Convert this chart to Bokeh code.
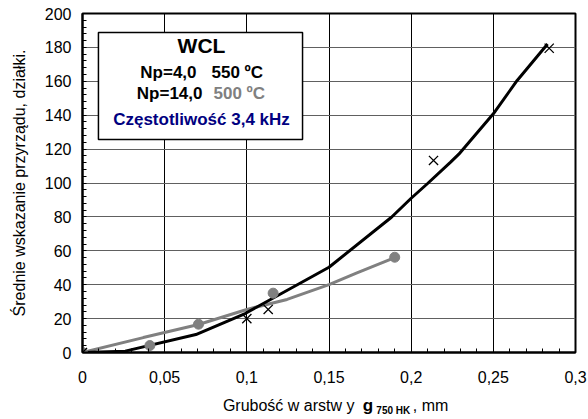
from bokeh.plotting import figure
from bokeh.models import FixedTicker, CustomJSTickFormatter, Range1d, BoxAnnotation, Label
from bokeh.layouts import column
from bokeh.core.properties import value
from bokeh.embed import file_html
from bokeh.resources import INLINE

# --- data ---
x_cross = [0.0, 0.100, 0.113, 0.2136, 0.284]
y_cross = [0.0, 20.0, 25.4, 113.3, 179.5]

x_dots = [0.0, 0.041, 0.0706, 0.116, 0.190]
y_dots = [0.0, 4.1, 16.7, 35.0, 56.2]

x_black_line = [0.0, 0.026, 0.069, 0.099, 0.139, 0.150, 0.188, 0.200, 0.210,
                0.224, 0.229, 0.250, 0.2645, 0.283]
y_black_line = [0.0, 0.8, 10.6, 23.0, 44.4, 50.3, 79.8, 91.0, 99.7,
                112.3, 117.0, 140.8, 160.5, 182.0]

x_gray_line = [0.0, 0.037, 0.0706, 0.100, 0.1245, 0.150, 0.167, 0.190]
y_gray_line = [0.0, 8.8, 16.5, 25.4, 31.3, 40.0, 47.0, 56.0]

x_ticks = [0.0, 0.05, 0.1, 0.15, 0.2, 0.25, 0.3]
x_minor = [i / 100 for i in range(0, 31)]
y_ticks = [0, 20, 40, 60, 80, 100, 120, 140, 160, 180, 200]
y_minor = list(range(0, 201, 4))

legend_title = "WCL"
legend_row1 = ["Np=4,0", "550 ºC"]
legend_row2 = ["Np=14,0", "500 ºC"]
legend_row3 = "Częstotliwość 3,4 kHz"
y_title = "Średnie wskazanie przyrządu, działki."
x_title_parts = ["Grubość w arstw y", "g", "750 HK", ", mm"]

FONT = "Liberation Sans"
GRAY = "#808080"

p = figure(width=588, height=392, output_backend="svg", toolbar_location=None,
           x_range=Range1d(0, 0.3), y_range=Range1d(0, 200),
           min_border_left=82, min_border_right=13, min_border_top=13,
           min_border_bottom=40)
p.background_fill_color = "white"
p.border_fill_color = "white"
p.outline_line_color = "black"
p.outline_line_width = 2

# axes
p.xaxis.ticker = FixedTicker(ticks=x_ticks, minor_ticks=x_minor)
p.yaxis.ticker = FixedTicker(ticks=y_ticks, minor_ticks=y_minor)
p.xaxis.formatter = CustomJSTickFormatter(
    code="return parseFloat(tick.toFixed(2)).toString().replace('.', ',');")
for ax in (p.xaxis[0], p.yaxis[0]):
    ax.axis_line_color = "black"
    ax.axis_line_width = 2
    ax.major_tick_in = 0
    ax.major_tick_out = 0
    ax.minor_tick_in = 4
    ax.minor_tick_out = 0
    ax.minor_tick_line_color = "black"
    ax.major_label_text_font = FONT
    ax.major_label_text_font_size = "16px"
    ax.major_label_text_color = "black"
p.xaxis.major_label_standoff = 18
p.yaxis.major_label_standoff = 11
p.yaxis.axis_label = y_title
p.yaxis.axis_label_text_font = FONT
p.yaxis.axis_label_text_font_size = "16px"
p.yaxis.axis_label_text_font_style = "normal"
p.yaxis.axis_label_text_color = "black"
p.yaxis.axis_label_standoff = 14

p.xgrid.grid_line_color = "black"
p.xgrid.grid_line_width = 1
p.ygrid.grid_line_color = "#606060"
p.ygrid.grid_line_width = 1

# series
p.line(x_gray_line, y_gray_line, line_color=GRAY, line_width=3)
p.line(x_black_line, y_black_line, line_color="black", line_width=3)
p.scatter(x_dots, y_dots, marker="circle", size=10, fill_color=GRAY, line_color=GRAY)
p.scatter(x_cross, y_cross, marker="x", size=13, line_color="black", line_width=1.3)

# legend box
p.add_layout(BoxAnnotation(left=0.0097, right=0.1339, bottom=125.7, top=188.8,
                           fill_color="white", fill_alpha=1.0,
                           line_color="black", line_alpha=1.0, line_width=1.5,
                           level="overlay"))

def lab(x, y, text, size, color="black", style="bold", align="center"):
    p.add_layout(Label(x=x, y=y, text=text, text_font=FONT, text_font_size=size,
                       text_font_style=style, text_color=color, text_align=align,
                       text_baseline="middle", level="overlay"))

lab(0.0724, 181.1, legend_title, "21px")
lab(0.0694, 165.4, legend_row1[0], "17px", align="right")
lab(0.0785, 165.4, legend_row1[1], "17px", align="left")
lab(0.0730, 152.6, legend_row2[0], "17px", align="right")
lab(0.0797, 152.6, legend_row2[1], "17px", color=GRAY, align="left")
lab(0.0724, 137.3, legend_row3, "17px", color="#000080")

# x axis title strip (allows bold g with subscript)
p2 = figure(width=588, height=27, output_backend="svg", toolbar_location=None,
            x_range=p.x_range, y_range=Range1d(0, 27),
            x_axis_location=None, y_axis_location=None,
            min_border_left=82, min_border_right=13, min_border_top=0,
            min_border_bottom=0)
p2.outline_line_color = None
p2.grid.visible = False
p2.background_fill_color = "white"
p2.border_fill_color = "white"

def txt(x, y, text, size, style, align):
    p2.text(x=[x], y=[y], text=[text], text_font=value(FONT),
            text_font_size=value(size), text_font_style=style,
            text_color="black", text_align=align, text_baseline="middle")

txt(0.1655, 14, x_title_parts[0], "16px", "normal", "right")
txt(0.1706, 14, x_title_parts[1], "17px", "bold", "left")
txt(0.1788, 9.5, x_title_parts[2], "10px", "bold", "left")
txt(0.2010, 14, x_title_parts[3], "16px", "normal", "left")

layout = column(p, p2, spacing=0)
open("out.html", "w").write(file_html(layout, INLINE))
